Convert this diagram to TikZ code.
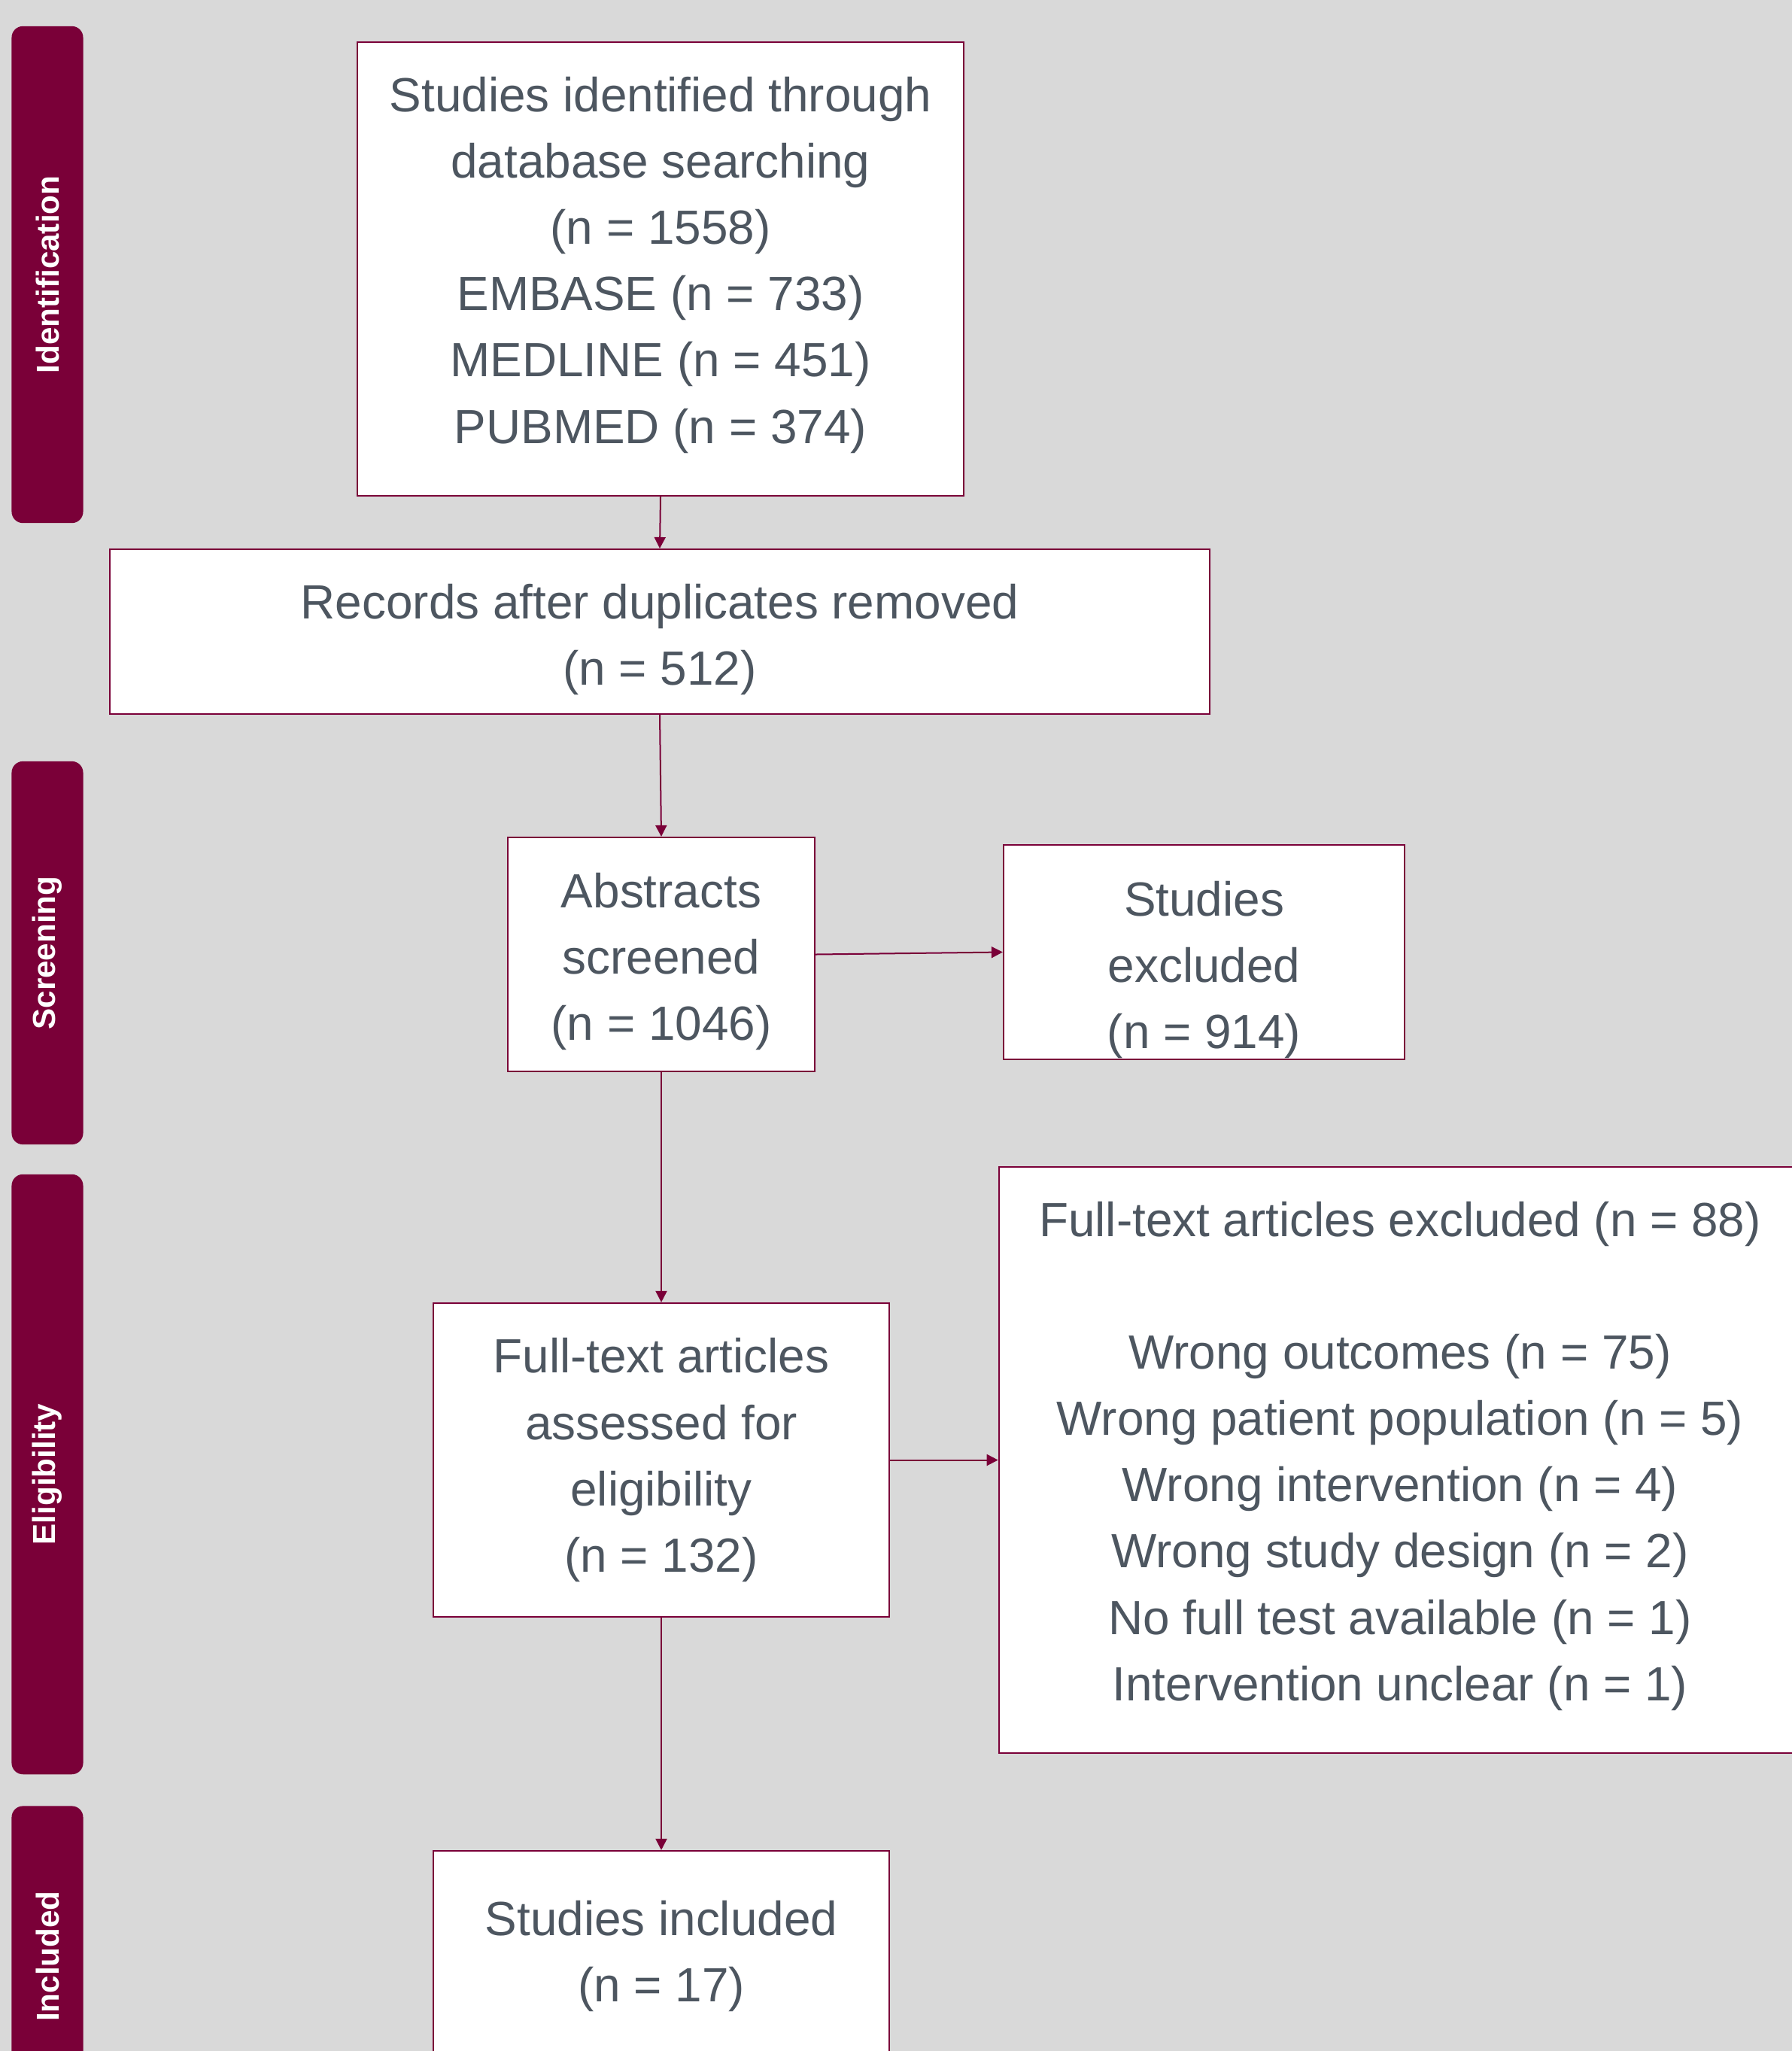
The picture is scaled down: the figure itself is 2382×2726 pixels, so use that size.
\documentclass[tikz,border=0pt]{standalone}
\usepackage{fontspec}
\setmainfont{Liberation Sans}
\usetikzlibrary{arrows.meta}
\definecolor{maroon}{HTML}{7A0038}
\definecolor{bgc}{HTML}{D9D9D9}
\definecolor{txt}{HTML}{4D5660}
\newcommand{\topstrut}[1]{\rule{0pt}{#1}}
\newcommand{\botstrut}[1]{\rule[-#1]{0pt}{0pt}}
\begin{document}
\begin{tikzpicture}[x=0.01cm,y=-0.01cm,
  box/.style={draw=maroon, line width=0.02cm, fill=white, align=center, text=txt,
    font=\fontsize{18.15pt}{25.04pt}\selectfont, inner sep=0pt},
  bar/.style={fill=maroon, rounded corners=0.15cm, text=white,
    font=\fontsize{12pt}{14pt}\selectfont\bfseries, rotate=90, inner sep=0pt,
    minimum height=0.95cm},
  arr/.style={draw=maroon, line width=0.02cm, -{Triangle[length=0.15cm,width=0.15cm]}}]
\useasboundingbox (0,0) rectangle (2382,2726);
\clip (0,0) rectangle (2382,2726);
\fill[bgc] (0,0) rectangle (2382,2726);

% phase bars
\node[bar, minimum width=6.60cm] (idbar) at (63,365) {Identification};
\node[bar, minimum width=5.09cm] (scbar) at (63,1266.5) {Screening};
\node[bar, minimum width=7.97cm] (elbar) at (63,1959.5) {Eligibility};
\node[bar, minimum width=3.99cm] (inbar) at (63,2600) {Included};

% boxes
\node[box, minimum width=8.06cm, minimum height=6.03cm] (b1) at (878,357.5)
  {Studies identified through\\database searching\\(n = 1558)\\EMBASE (n = 733)\\MEDLINE (n = 451)\\PUBMED (n = 374)\botstrut{6.7pt}};
\node[box, minimum width=14.62cm, minimum height=2.19cm] (b2) at (877,839.5)
  {\topstrut{18.9pt}Records after duplicates removed\\(n = 512)};
\node[box, minimum width=4.08cm, minimum height=3.11cm] (b3) at (879,1268.5)
  {\topstrut{18.3pt}Abstracts\\screened\\(n = 1046)};
\node[box, minimum width=5.33cm, minimum height=2.85cm] (b4) at (1600.5,1265.5)
  {\topstrut{26.3pt}Studies\\excluded\\(n = 914)};
\node[box, minimum width=6.06cm, minimum height=4.17cm] (b5) at (879,1940.5)
  {Full-text articles\\assessed for\\eligibility\\(n = 132)};
\node[box, minimum width=10.66cm, minimum height=7.79cm] (b6) at (1861,1940.5)
  {Full-text articles excluded (n = 88)\\[25.04pt]Wrong outcomes (n = 75)\\Wrong patient population (n = 5)\\Wrong intervention (n = 4)\\Wrong study design (n = 2)\\No full test available (n = 1)\\Intervention unclear (n = 1)\botstrut{6.7pt}};
\node[box, minimum width=6.06cm, minimum height=2.70cm] (b7) at (879,2595)
  {\topstrut{16pt}Studies included\\(n = 17)};

% connectors
\draw[arr] (b1.south) -- (b2.north);
\draw[arr] (b2.south) -- (b3.north);
\draw[arr] (b3.east) -- (b4.west);
\draw[arr] (b3.south) -- (b5.north);
\draw[arr] (b5.east) -- (b6.west);
\draw[arr] (b5.south) -- (b7.north);
\end{tikzpicture}
\end{document}
